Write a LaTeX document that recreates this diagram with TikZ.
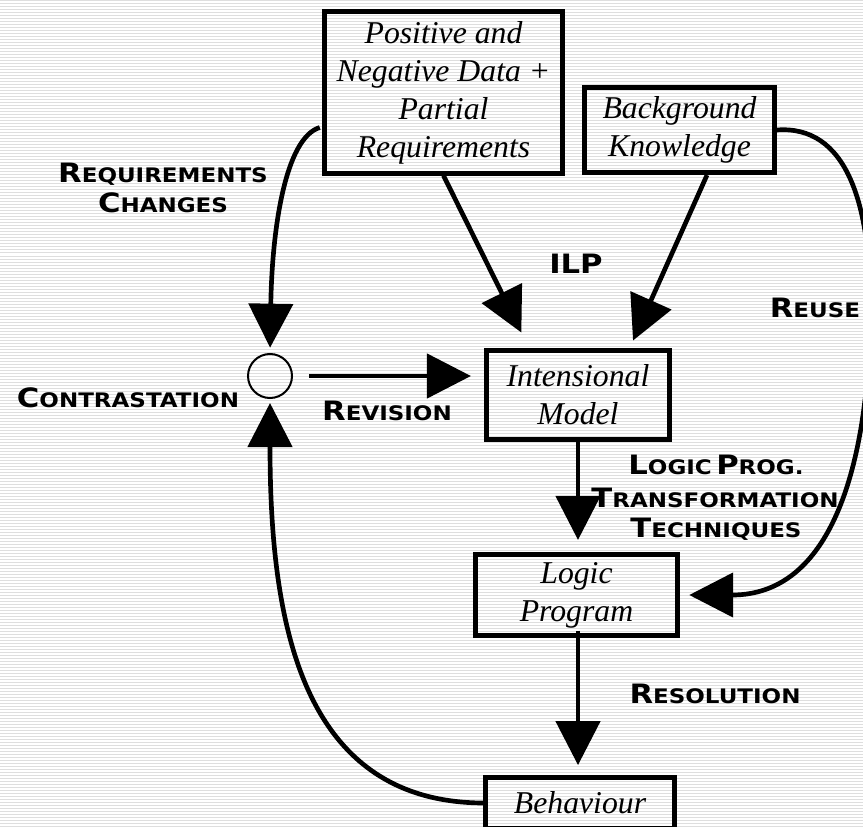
\documentclass[tikz,border=0pt]{standalone}
\usepackage{fontspec}
\usepackage{graphicx}
\usetikzlibrary{arrows.meta,calc}
\newfontfamily\tnr{Liberation Serif}
\newfontfamily\cpfont{DejaVu Sans}
\definecolor{stripe}{RGB}{222,222,222}
\newcommand\cpw[2]{\scalebox{1.15}[1]{\cpfont\bfseries{\fontsize{20}{24}\selectfont #1}{\fontsize{15}{18}\selectfont #2}}}
\begin{document}
\begin{tikzpicture}[x=0.75pt,y=-0.75pt,
  box/.style={draw, line width=3.6pt, inner sep=0pt, align=center,
    font=\tnr\itshape\fontsize{23.8}{28.5}\selectfont},
  arr/.style={line width=3.5pt, -{Triangle[length=33pt,width=33pt]}},
  lbl/.style={anchor=base, inner sep=0pt}]
\useasboundingbox (0,0) rectangle (863,827);
\clip (0,0) rectangle (863,827);
\fill[white] (0,0) rectangle (863,827);
\foreach \y in {1,4,...,827} \draw[line width=0.75pt, stripe] (0,\y) -- (863,\y);

% boxes
\node[box, minimum width=179pt, minimum height=121pt] (PN) at (443.5,92.5)
  {Positive and\\Negative Data +\\Partial\\Requirements};
\node[box, minimum width=142.5pt, minimum height=64pt] (BK) at (679.5,130)
  {Background\\Knowledge};
\node[box, minimum width=137pt, minimum height=67pt] (IM) at (578,395)
  {Intensional\\Model};
\node[box, minimum width=151.5pt, minimum height=61pt] (LP) at (576.5,595)
  {Logic\\Program};
\node[box, minimum width=142pt, minimum height=38.25pt] (BE) at (580,803) {Behaviour};
\node[draw, circle, line width=1.5pt, minimum size=33pt, inner sep=0pt] (C) at (270,376) {};

% connectors
\draw[arr, shorten >=12.9pt] (PN.south) -- ($(IM.north)+(-49,0)$);
\draw[arr, shorten >=6.1pt] ($(BK.south)+(27.5,0)$) -- ($(IM.north)+(51.7,0)$);
\draw[arr, shorten <=12pt, shorten >=10pt] (C.east) -- (C.east -| IM.west);
\draw[arr, shorten >=9pt] (IM.south) -- (IM.south |- LP.north);
\draw[arr, shorten <=-5.6pt, shorten >=7.5pt] ($(LP.south)+(1.5,0)$) -- ($(LP.south |- BE.north)+(1.5,0)$);
\draw[arr, shorten >=3pt] (BE.west) .. controls (300,802) and (270,620) .. (C.south);
\draw[arr, shorten >=4pt] ($(PN.west)+(-2,35)$) .. controls (285,138) and (272,230) .. (C.north);
\draw[arr, shorten >=7pt] (BK.east) .. controls (845,125) and (874,200) .. (870,330)
  .. controls (866,470) and (830,595) .. (LP.east);

% labels
\node[lbl] (l1) at (163,183) {\cpw{R}{EQUIREMENTS}};
\node[lbl] (l2) at (163,213) {\cpw{C}{HANGES}};
\node[lbl] (l3) at (576,273) {\cpw{ILP}{}};
\node[lbl] (l4) at (128,407) {\cpw{C}{ONTRASTATION}};
\node[lbl] (l5) at (387,420) {\cpw{R}{EVISION}};
\node[lbl] (l6) at (815,317) {\cpw{R}{EUSE}};
\node[lbl] (l7) at (716,474) {\cpw{L}{OGIC} \cpw{P}{ROG.}};
\node[lbl] (l8) at (715,507) {\cpw{T}{RANSFORMATION}};
\node[lbl] (l9) at (716,537) {\cpw{T}{ECHNIQUES}};
\node[lbl] (l10) at (715,703) {\cpw{R}{ESOLUTION}};
\end{tikzpicture}
\end{document}
